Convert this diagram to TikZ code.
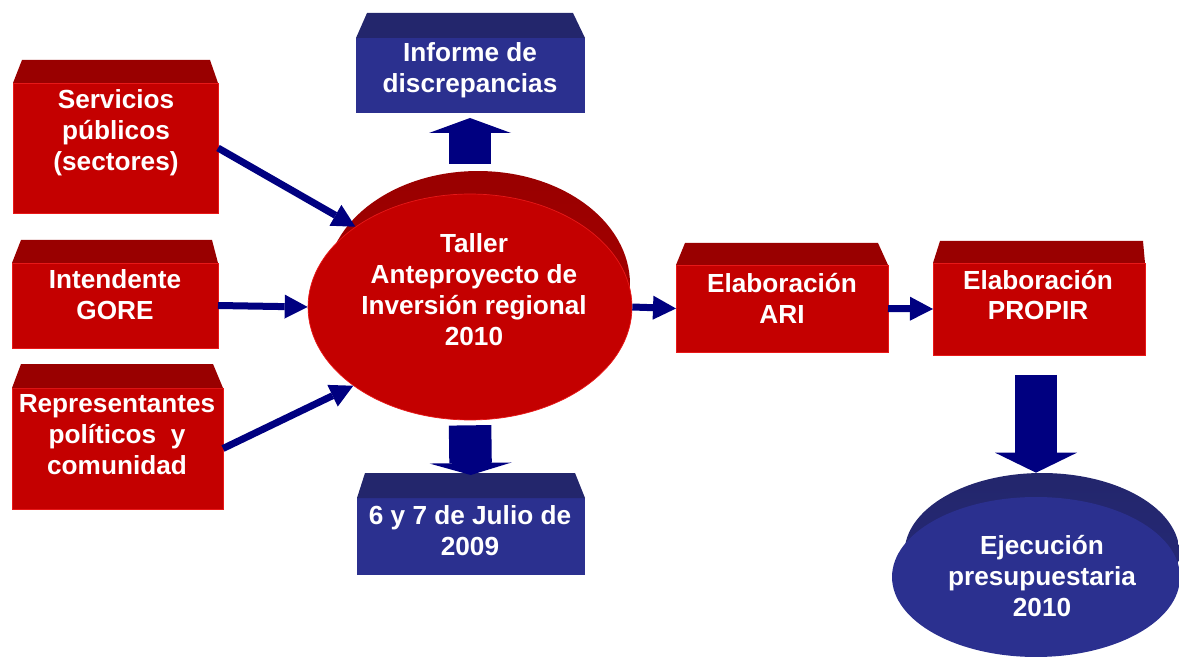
\documentclass[tikz,border=0pt]{standalone}
\usepackage{fontspec}
\setmainfont{Liberation Sans}
\usetikzlibrary{arrows.meta,shapes.geometric,fit,calc}
\definecolor{redfront}{RGB}{196,0,0}
\definecolor{redtop}{RGB}{153,0,0}
\definecolor{rededge}{RGB}{232,24,24}
\definecolor{bluefront}{RGB}{43,48,143}
\definecolor{bluetop}{RGB}{35,38,108}
\definecolor{navyarrow}{RGB}{0,0,128}
\newcommand\topface[5]{\fill[#2] (#1.north west) -- (#3,#5) -- (#4,#5) -- (#1.north east) -- cycle;}
\begin{document}
\begin{tikzpicture}[x=0.02cm,y=-0.02cm,
  redbox/.style={inner sep=0pt, outer sep=0pt, fill=redfront, draw=rededge, line width=0.4pt},
  bluebox/.style={inner sep=0pt, outer sep=0pt, fill=bluefront},
  txt/.style={text=white, font=\fontsize{14.9}{17.6}\selectfont\bfseries, align=center, inner sep=0pt},
  thinarrow/.style={draw=navyarrow, line width=0.14cm, -{Triangle[length=0.46cm,width=0.48cm,line width=0pt]}},
  blockarrow/.style={draw=navyarrow, line width=0.85cm, -{Triangle[length=#1,width=1.64cm,line width=0pt]}},
]
\useasboundingbox (0,0) rectangle (1179,658);

% left input boxes
\node[redbox, fit={(13,83) (218,213)}] (serv) {};
\topface{serv}{redtop}{22}{210}{60}
\node[txt] (serv-t) at (116,133) {Servicios\\públicos\\(sectores)};

\node[redbox, fit={(12,263) (218,348)}] (int) {};
\topface{int}{redtop}{21}{212}{240}
\node[txt] (int-t) at (115,295) {Intendente\\GORE};

\node[redbox, fit={(12,388) (223,509)}] (rep) {};
\topface{rep}{redtop}{21}{213}{364}
\node[txt] (rep-t) at (117,435) {Representantes\\políticos\ \ y\\comunidad};

% central ellipse
\node[ellipse, inner sep=0pt, minimum width=6.08cm, minimum height=4.52cm,
      top color=redtop, bottom color=redfront, middle color=redtop!80!redfront] (tallerback) at (478,284) {};
\node[ellipse, inner sep=0pt, minimum width=6.48cm, minimum height=4.52cm,
      fill=redfront, draw=rededge, line width=0.4pt] (taller) at (470,307) {};
\node[txt] (taller-t) at (474,290) {Taller\\Anteproyecto de\\Inversión regional\\2010};

% blue boxes
\node[bluebox, fit={(356,38) (585,113)}] (inf) {};
\topface{inf}{bluetop}{367}{573}{13}
\node[txt] (inf-t) at (470,70) {Informe de\\discrepancias};

\node[bluebox, fit={(357,498) (585,575)}] (six) {};
\topface{six}{bluetop}{365}{575}{473}
\node[txt] (six-t) at (470,531) {6 y 7 de Julio de\\2009};

% right boxes
\node[redbox, fit={(676,265) (888,352)}] (ari) {};
\topface{ari}{redtop}{685}{878}{243}
\node[txt] (ari-t) at (782,298) {Elaboración\\ARI};

\node[redbox, fit={(933,263) (1145,355)}] (propir) {};
\topface{propir}{redtop}{940}{1143}{241}
\node[txt] (propir-t) at (1038,295) {Elaboración\\PROPIR};

% bottom right ellipse
\node[ellipse, inner sep=0pt, minimum width=5.5cm, minimum height=3.2cm,
      top color=bluetop, bottom color=bluefront, middle color=bluetop!80!bluefront] (ejecback) at (1042,553) {};
\node[ellipse, inner sep=0pt, minimum width=5.76cm, minimum height=3.2cm,
      fill=bluefront] (ejec) at (1036,577) {};
\node[txt] (ejec-t) at (1042,576) {Ejecución\\presupuestaria\\2010};

% thin arrows
\draw[thinarrow] (serv.east) -- (taller.145);
\draw[thinarrow] (int.east) -- (taller.west);
\draw[thinarrow] (rep.east) -- (taller.214);
\draw[thinarrow] (taller.east) -- (ari.west);
\draw[thinarrow] (ari.east) -- (propir.west);

% block arrows
\draw[blockarrow=0.3cm, shorten <=0.06cm, shorten >=0.1cm] (inf.south -| taller.north) ++(0,54) coordinate (upstart) (upstart) -- (inf.south -| taller.north);
\draw[blockarrow=0.24cm, shorten <=0.1cm, shorten >=0.46cm] (taller.south) -- (six.north);
\draw[blockarrow=0.4cm, shorten <=0.4cm] (1036,355) coordinate (downstart) (downstart) -- (ejecback.north -| downstart);
\end{tikzpicture}
\end{document}
